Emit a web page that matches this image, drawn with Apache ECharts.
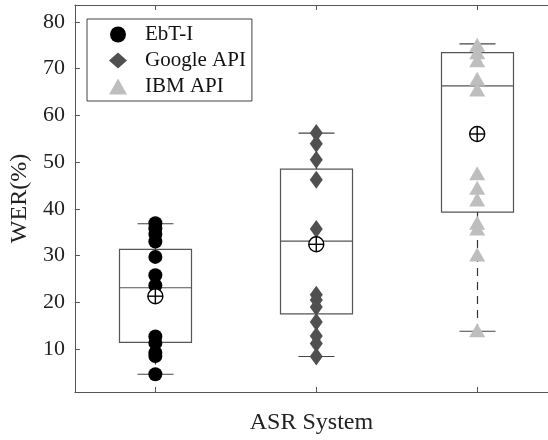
<!DOCTYPE html>
<html><head><meta charset="utf-8">
<script src="https://cdn.jsdelivr.net/npm/echarts@6/dist/echarts.min.js"></script>
<style>html,body{margin:0;padding:0;background:#fff}#c{width:548px;height:440px}</style>
</head><body><div id="c"></div>
<script>
const categories = ['EbT-I', 'Google API', 'IBM API'];
const categoryPositions = [1, 2, 3];
const ebtValues = [36.9, 35.8, 34.6, 33.0, 29.7, 25.8, 23.6, 12.7, 11.3, 9.2, 8.5, 4.6];
const googleValues = [56.2, 53.9, 50.5, 46.2, 35.7, 21.6, 20.5, 19.0, 15.8, 12.8, 11.2, 8.4];
const ibmValues = [75.1, 73.5, 71.8, 67.8, 65.5, 47.6, 44.5, 42.0, 37.0, 35.8, 30.2, 14.0];
const boxMin = [4.6, 8.4, 13.8];
const boxQ1 = [11.4, 17.5, 39.3];
const boxMedian = [23.1, 33.1, 66.3];
const boxQ3 = [31.3, 48.5, 73.4];
const boxMax = [36.8, 56.2, 75.3];
const meanValues = [21.3, 32.4, 56.0];
const yTicks = [10, 20, 30, 40, 50, 60, 70, 80];

const FONT = 'Liberation Serif';
const AX = '#555';
const boxData = categories.map((c, i) => [categoryPositions[i], boxMin[i], boxQ1[i], boxMedian[i], boxQ3[i], boxMax[i]]);
const meanData = categories.map((c, i) => [categoryPositions[i], meanValues[i]]);
const toPts = (arr, i) => arr.map(v => [categoryPositions[i], v]);

const xCommon = {
  type: 'value', min: 0.5, max: 3.44,
  axisLine: {show: true, onZero: false, lineStyle: {color: AX}},
  axisTick: {show: true, inside: true, length: 5, customValues: categoryPositions, lineStyle: {color: AX}},
  axisLabel: {show: false}, splitLine: {show: false}
};

const chart = echarts.init(document.getElementById('c'), null, {renderer: 'canvas'});
chart.setOption({
  animation: false,
  backgroundColor: '#fff',
  grid: {left: 73, right: 0, top: 5, bottom: 48},
  legend: {
    orient: 'vertical', left: 87, top: 19, selectedMode: false,
    data: [{name: 'EbT-I', icon: 'circle'}, {name: 'Google API', icon: 'diamond'}, {name: 'IBM API', icon: 'triangle'}],
    itemWidth: 18, itemHeight: 16, itemGap: 5,
    padding: [5, 6, 4, 22], borderColor: '#444', borderWidth: 1,
    textStyle: {fontFamily: FONT, fontSize: 21, color: '#111', lineHeight: 21, padding: [0, 0, 0, 13]}
  },
  xAxis: [Object.assign({}, xCommon, {
    position: 'bottom',
    name: 'ASR System', nameLocation: 'middle', nameGap: 19,
    nameTextStyle: {fontFamily: FONT, fontSize: 24, color: '#222'}
  }), Object.assign({}, xCommon, {position: 'top'})],
  yAxis: {
    type: 'value', min: 0.8, max: 83.6,
    axisLine: {show: true, onZero: false, lineStyle: {color: AX}},
    axisTick: {show: true, inside: true, length: 5, customValues: yTicks, lineStyle: {color: AX}},
    axisLabel: {customValues: yTicks, fontFamily: FONT, fontSize: 22, color: '#222', margin: 10},
    splitLine: {show: false},
    name: 'WER(%)', nameLocation: 'middle', nameGap: 38,
    nameTextStyle: {fontFamily: FONT, fontSize: 24, color: '#222'}
  },
  series: [{
    type: 'custom', z: 1, silent: true,
    encode: {x: 0, y: [1, 2, 3, 4, 5]},
    data: boxData,
    renderItem: function (params, api) {
      const x = api.value(0);
      const pMin = api.coord([x, api.value(1)]);
      const pQ1 = api.coord([x, api.value(2)]);
      const pMed = api.coord([x, api.value(3)]);
      const pQ3 = api.coord([x, api.value(4)]);
      const pMax = api.coord([x, api.value(5)]);
      const cx = Math.round(pQ1[0]) + 0.5;
      const hw = 36, cw = 18;
      const ln = (x1, y1, x2, y2, st) => ({type: 'line', shape: {x1, y1, x2, y2}, style: Object.assign({stroke: '#555', lineWidth: 1.2}, st || {})});
      return {type: 'group', children: [
        {type: 'rect', shape: {x: cx - hw, y: pQ3[1], width: 2 * hw, height: pQ1[1] - pQ3[1]}, style: {fill: 'transparent', stroke: '#555', lineWidth: 1.2}},
        ln(cx - hw, pMed[1], cx + hw, pMed[1]),
        ln(cx, pQ3[1], cx, pMax[1], {stroke: '#333', lineDash: [8, 6]}),
        ln(cx, pQ1[1], cx, pMin[1], {stroke: '#333', lineDash: [8, 6]}),
        ln(cx - cw, pMax[1], cx + cw, pMax[1], {stroke: '#444'}),
        ln(cx - cw, pMin[1], cx + cw, pMin[1], {stroke: '#444'})
      ]};
    }
  }, {
    name: 'EbT-I', type: 'scatter', z: 2, symbol: 'circle', symbolSize: 14,
    itemStyle: {color: '#000', opacity: 1}, data: toPts(ebtValues, 0)
  }, {
    name: 'Google API', type: 'scatter', z: 2, symbol: 'diamond', symbolSize: [13, 18],
    itemStyle: {color: '#505050', opacity: 1}, data: toPts(googleValues, 1)
  }, {
    name: 'IBM API', type: 'scatter', z: 2, symbol: 'triangle', symbolSize: [16, 14],
    itemStyle: {color: '#bebebe', opacity: 1}, data: toPts(ibmValues, 2)
  }, {
    type: 'custom', z: 3, silent: true,
    encode: {x: 0, y: 1},
    data: meanData,
    renderItem: function (params, api) {
      const p = api.coord([api.value(0), api.value(1)]);
      const r = 7.5;
      const st = {stroke: '#000', lineWidth: 1.4};
      return {type: 'group', children: [
        {type: 'circle', shape: {cx: p[0], cy: p[1], r: r}, style: {fill: '#fff', stroke: '#000', lineWidth: 1.4}},
        {type: 'line', shape: {x1: p[0] - r, y1: p[1], x2: p[0] + r, y2: p[1]}, style: st},
        {type: 'line', shape: {x1: p[0], y1: p[1] - r, x2: p[0], y2: p[1] + r}, style: st}
      ]};
    }
  }]
});
</script></body></html>
